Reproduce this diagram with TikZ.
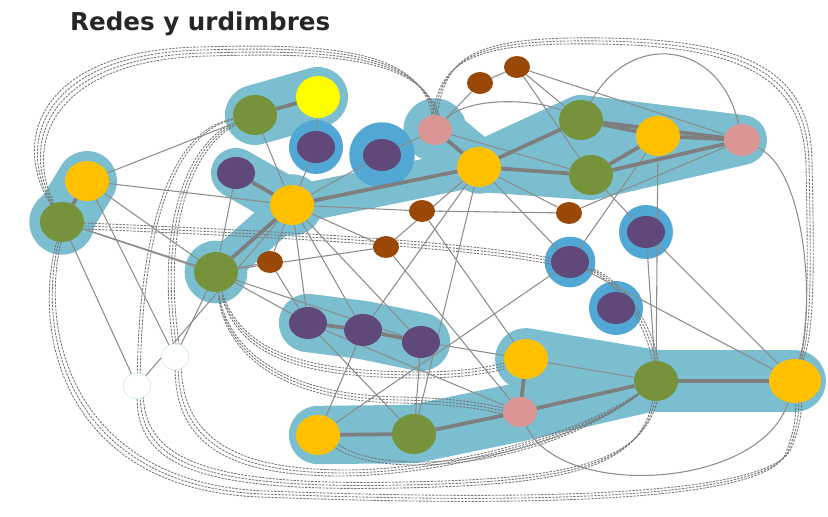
\documentclass[tikz,border=0pt]{standalone}
\usepackage{fontspec}
\setsansfont{DejaVu Sans}
\usetikzlibrary{shapes.geometric,backgrounds}
\definecolor{Leaf}{RGB}{118,146,58}
\definecolor{Sun}{RGB}{254,254,0}
\definecolor{Plum}{RGB}{96,73,122}
\definecolor{Amber}{RGB}{255,192,0}
\definecolor{Rust}{RGB}{153,72,7}
\definecolor{Rose}{RGB}{217,150,148}
\definecolor{Halo}{RGB}{122,190,208}
\definecolor{HaloDark}{RGB}{82,168,212}
\definecolor{Wire}{RGB}{140,140,140}

\begin{document}
\begin{tikzpicture}[x=0.03cm,y=-0.03cm,
    spot/.style={ellipse,inner sep=0pt,minimum width=1.32cm,minimum height=1.2cm},
    grn/.style={spot,fill=Leaf},
    org/.style={spot,fill=Amber},
    ylw/.style={spot,fill=Sun,minimum height=1.26cm},
    prp/.style={spot,fill=Plum,minimum width=1.14cm,minimum height=0.96cm},
    brn/.style={spot,fill=Rust,minimum width=0.78cm,minimum height=0.66cm},
    pnk/.style={spot,fill=Rose,minimum width=1.02cm,minimum height=0.9cm},
    wht/.style={spot,fill=white,draw=HaloDark!35,line width=0.4pt,minimum width=0.84cm,minimum height=0.78cm},
    halo/.style={draw=Halo,line cap=round,line join=round},
    link/.style={draw=Wire,line width=0.9pt},
    tie/.style={draw=Wire!85!black,line width=0.75pt,dash pattern=on 2pt off 1pt},
    bond/.style={draw=Wire!90!black,line width=3.2pt}]
  \useasboundingbox (0,0) rectangle (828,517);

  \node[anchor=base west,font=\sffamily\bfseries\fontsize{21}{25}\selectfont,text=black!85] (title) at (66,31) {Redes y urdimbres};

  % nodes
  \node[grn] (g1) at (255,115) {};
  \node[ylw] (y1) at (318,97) {};
  \node[prp] (p1) at (316,147) {};
  \node[prp] (p2) at (382,155) {};
  \node[prp] (p3) at (236,173) {};
  \node[org] (o1) at (292,205) {};
  \node[org] (o2) at (87,181) {};
  \node[grn] (g2) at (62,222) {};
  \node[grn] (g3) at (216,272) {};
  \node[brn] (b1) at (270,262) {};
  \node[brn] (b2) at (386,247) {};
  \node[brn] (b3) at (422,211) {};
  \node[brn] (b4) at (480,83) {};
  \node[brn] (b5) at (517,67) {};
  \node[brn] (b6) at (569,213) {};
  \node[pnk] (r1) at (435,130) {};
  \node[org] (o3) at (479,167) {};
  \node[grn] (g4) at (581,120) {};
  \node[org] (o4) at (658,136) {};
  \node[pnk,minimum width=1.08cm,minimum height=0.96cm] (r2) at (742,140) {};
  \node[grn] (g5) at (591,175) {};
  \node[prp] (p4) at (646,232) {};
  \node[prp] (p5) at (570,262) {};
  \node[prp] (p6) at (616,308) {};
  \node[prp] (p7) at (308,323) {};
  \node[prp] (p8) at (363,330) {};
  \node[prp] (p9) at (421,342) {};
  \node[org] (o5) at (526,359) {};
  \node[pnk] (r3) at (520,412) {};
  \node[grn] (g6) at (656,381) {};
  \node[org,minimum width=1.56cm,minimum height=1.32cm] (o6) at (795,381) {};
  \node[org] (o7) at (318,435) {};
  \node[grn] (g7) at (414,434) {};
  \node[wht] (w1) at (175,357) {};
  \node[wht] (w2) at (137,386) {};

  \begin{scope}[on background layer]
    % halos
    \draw[halo,line width=1.8cm] (g1.center) -- (y1.center);
    \draw[halo,line width=1.8cm] (o2.center) -- (g2.center);
    \fill[Halo] (g2.center) circle[radius=0.98cm];
    \draw[halo,line width=1.5cm] (p3.center) -- (o1.center);
    \draw[halo,line width=1.15cm] (g3.center) -- (o1.center) -- (o3.center);
    \fill[Halo] (g3.center) circle[radius=0.94cm] (o1.center) circle[radius=0.92cm];
    \draw[halo,line width=1.6cm] (r1.center) -- (o3.center);
    \fill[Halo] (r1.center) circle[radius=0.95cm];
    \filldraw[halo,fill=Halo,line width=1.5cm] (o3.center) -- (g4.center) -- (r2.center) -- (g5.center) -- cycle;
    \draw[halo,line width=1.75cm] (p7.center) -- (p8.center) -- (p9.center);
    \draw[halo,line width=1.75cm] (o7.center) -- (g7.center) -- (r3.center) -- (g6.center);
    \draw[halo,line width=1.85cm] (o5.center) -- (g6.center) -- (o6.center);
    \fill[Halo] (o5.center) -- (g6.center) -- (r3.center) -- cycle;
    \fill[HaloDark] (p1.center) circle[radius=0.81cm];
    \fill[HaloDark] (p2.center) circle[radius=0.98cm];
    \fill[HaloDark] (p4.center) circle[radius=0.81cm];
    \fill[HaloDark] (p5.center) circle[radius=0.76cm];
    \fill[HaloDark] (p6.center) circle[radius=0.81cm];

    % dashed bundles
    \foreach \s in {0,3,6,9}
      \draw[tie,transform canvas={shift={(\s,\s)}}] (g2) .. controls (10,140) and (40,50) .. (200,47) .. controls (330,43) and (420,50) .. (r1);
    \foreach \s in {0,3,6}
      \draw[tie,transform canvas={shift={(-\s,\s)}}] (r1) .. controls (445,60) and (470,40) .. (570,38) .. controls (730,36) and (810,60) .. (812,160) .. controls (814,260) and (815,330) .. (o6);
    \foreach \s in {0,3,6}
      \draw[tie,transform canvas={shift={(\s,-\s)}}] (g2) .. controls (30,340) and (70,490) .. (260,497) .. controls (500,506) and (760,505) .. (785,455) .. controls (795,430) and (796,415) .. (o6);
    \foreach \s in {0,3,6}
      \draw[tie,transform canvas={shift={(\s,-\s)}}] (w2) .. controls (138,470) and (210,492) .. (400,488) .. controls (560,485) and (640,470) .. (g6);
    \foreach \s in {0,3,6}
      \draw[tie,transform canvas={shift={(\s,-\s)}}] (w1) .. controls (176,445) and (230,476) .. (340,476) .. controls (440,476) and (580,440) .. (g6);
    \foreach \s in {0,3}
      \draw[tie,transform canvas={shift={(\s,-\s)}}] (o7) .. controls (380,480) and (540,470) .. (g6);
    \foreach \s in {0,3,6}
      \draw[tie,transform canvas={shift={(\s,0)}}] (g1) .. controls (190,140) and (155,220) .. (w1);
    \foreach \s in {0,3}
      \draw[tie,transform canvas={shift={(\s,0)}}] (g1) .. controls (170,130) and (140,230) .. (w2);
    \foreach \s in {0,3,6}
      \draw[tie,transform canvas={shift={(0,\s)}}] (g3) .. controls (240,350) and (300,372) .. (420,372) .. controls (470,372) and (495,365) .. (o5);
    \foreach \s in {0,3,6}
      \draw[tie,transform canvas={shift={(0,\s)}}] (g3) .. controls (225,340) and (270,395) .. (400,397) .. controls (460,398) and (490,405) .. (r3);
    \foreach \s in {0,3,6}
      \draw[tie,transform canvas={shift={(0,\s)}}] (g2) .. controls (200,228) and (450,238) .. (p5);
    \foreach \s in {0,3,6}
      \draw[tie,transform canvas={shift={(\s,0)}}] (p5) .. controls (615,280) and (645,320) .. (g6);

    % plain links
    \foreach \a/\b in {o2/g1, o2/o1, o2/g3, o2/w1, g2/g3, g2/p9, g2/w2, g1/o1, y1/p1, p1/o1,
        p2/o1, p2/r1, o1/b1, o1/b2, o1/b3, o1/p7, o1/p8, o1/p9, g3/b1, g3/p7, g3/w1, g3/b2,
        b1/p7, b2/o3, b3/b6, b4/b5, b4/r1, b5/r2, b5/g4, b5/g5, o3/b6, b6/r2, g5/p4, o4/g6,
        o4/p5, p4/o6, p5/o6, p4/g6, p8/o3, p7/o5, p7/g7, p8/o7, p9/g7, o7/p5, g7/o3, o5/b3,
        o5/g6, p7/r3, r1/g5, o3/p5, b2/r3, p3/g3, w2/o1}
      \draw[link] (\a) -- (\b);
    \draw[link] (g4) .. controls (630,30) and (720,40) .. (r2);
    \draw[link] (r1) .. controls (470,95) and (540,100) .. (g4);
    \draw[link] (r2) .. controls (805,170) and (815,300) .. (o6);
    \draw[link] (r3) .. controls (560,500) and (760,490) .. (o6);

    % strong links
    \foreach \a/\b in {g1/y1, o2/g2, p3/o1, o1/g3, o1/o3, o3/r1, o3/g4, o3/g5, g4/r2, o4/r2,
        g5/r2, g4/o4, g5/o4, p7/p8, p8/p9, o7/g7, g7/r3, r3/o5, r3/g6, g6/o6}
      \draw[bond] (\a) -- (\b);
  \end{scope}
\end{tikzpicture}
\end{document}
